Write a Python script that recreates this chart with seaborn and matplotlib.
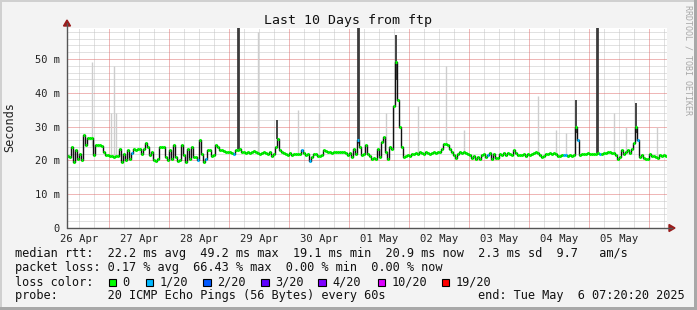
import numpy as np
import pandas as pd
import matplotlib
matplotlib.use("Agg")
import matplotlib.pyplot as plt
import matplotlib.dates as mdates
from matplotlib.patches import Rectangle, Polygon
from matplotlib.lines import Line2D
import seaborn as sns

# ---------------- data ----------------
start_time = "2025-04-26 07:20:20"
end_time = "2025-05-06 07:20:20"
step_minutes = 48

# median RTT per 48-minute step (ms)
median_ms = [
    # 26 Apr 07:20 ->
    21.2, 21.0, 24.0, 19.5, 23.0, 20.5, 22.0, 20.0, 27.5, 24.6,
    26.6, 26.5, 26.5, 21.7, 24.5, 24.5, 24.5, 24.3, 22.5, 21.5,
    21.5, 21.2, 21.2, 21.0, 21.2, 21.2, 23.5, 19.5, 22.0, 20.0,
    23.0, 20.5, 22.3, 23.3, 23.0, 23.5, 23.5, 22.0, 23.5, 25.0,
    24.0, 21.5, 22.5, 20.0, 19.7, 20.5, 24.0, 24.0, 24.0, 21.0,
    20.0,
    # 28 Apr ->
    23.0, 20.3, 24.5, 21.0, 19.8, 20.0, 24.5, 21.5, 19.5, 23.5,
    20.5, 24.0, 21.0, 21.0, 20.0, 26.0, 22.0, 19.5, 20.5, 23.0,
    23.0, 21.3, 21.5, 24.7, 24.0, 23.0, 23.0, 22.8, 22.5, 22.6,
    22.6, 22.2, 22.0, 23.0, 23.0, 23.5, 22.5, 22.5, 22.3, 22.5,
    22.3, 22.6, 22.8, 22.6, 22.2, 22.0, 22.3, 22.5, 22.2, 22.0,
    # 29 Apr 19:00 ->
    22.5, 21.2, 22.0, 24.0, 26.2, 23.0, 22.6, 22.3, 22.0, 21.5,
    22.3, 21.5, 22.0, 21.8, 21.8, 22.0, 23.0, 22.3, 21.5, 22.0,
    19.8, 21.0, 22.0, 21.8, 21.3, 21.2, 21.5, 23.0, 22.8, 22.5,
    22.6, 22.3, 22.5, 22.5, 22.6, 22.5, 22.4, 22.5, 22.3, 21.5,
    22.2, 21.0, 23.5, 22.0, 26.0, 24.0, 21.5, 22.0, 24.5, 22.0,
    # 01 May 10:00 ->
    21.2, 20.5, 20.8, 20.5, 23.5, 21.0, 25.3, 27.0, 22.5, 20.5,
    24.0, 23.5, 36.0, 49.2, 38.0, 30.0, 24.0, 21.0, 21.3, 21.5,
    21.2, 22.0, 22.0, 22.2, 22.0, 22.5, 22.3, 22.0, 22.5, 22.3,
    22.0, 22.3, 22.5, 22.3, 22.5, 22.5, 23.5, 24.8, 24.8, 24.5,
    23.5, 22.5, 21.5, 20.8, 22.0, 22.5, 22.3, 22.5, 22.3, 22.0,
    21.5, 20.8,
    # 03 May ->
    21.3, 20.3, 21.0, 20.5, 21.5, 21.8, 21.0, 21.7, 22.3, 20.5,
    22.0, 20.8, 20.8, 22.0, 21.5, 22.3, 21.7, 22.3, 21.8, 21.7,
    23.0, 22.3, 21.7, 21.5, 21.7, 22.0, 21.3, 21.8, 21.7, 22.0,
    22.3, 22.5, 22.3, 21.7, 21.0, 21.3, 21.8, 22.0, 22.3, 21.8,
    22.2, 22.0, 21.3, 21.3, 21.5, 21.7, 21.7, 21.3, 21.5, 21.3,
    # 04 May 16:00 ->
    21.7, 30.0, 26.0, 21.7, 22.0, 21.8, 22.0, 22.2, 21.8, 21.8,
    22.0, 21.8, 22.2, 21.8, 22.0, 22.3, 22.2, 22.5, 22.5, 22.3,
    22.3, 21.5, 20.5, 21.0, 23.0, 22.0, 22.5, 23.0, 22.3, 23.5,
    25.0, 30.0, 26.0, 21.0, 21.5, 20.8, 20.5, 20.3, 22.0, 21.3,
    21.3, 21.0, 20.8, 21.5, 21.3, 21.5, 21.3,
]
# steps with lost pings (step index, pings lost out of 20)
loss_step_index = [32, 65, 69, 83, 117, 121, 145, 210, 248, 249, 255, 266, 285]
loss_step_count = [1, 1, 1, 1, 1, 1, 1, 1, 1, 1, 1, 1, 1]

# smoke spikes (individual pings reaching high)
spike_times = [
    "2025-04-26 17:20", "2025-04-27 00:56", "2025-04-27 02:08", "2025-04-27 03:00",
    "2025-04-29 03:44", "2025-04-29 11:44", "2025-04-29 19:20", "2025-04-30 03:44",
    "2025-04-30 12:08", "2025-05-01 03:44", "2025-05-01 14:56", "2025-05-01 18:56",
    "2025-05-02 03:44", "2025-05-02 14:56", "2025-05-02 22:08", "2025-05-04 03:44",
    "2025-05-04 10:56", "2025-05-04 14:56", "2025-05-04 18:56", "2025-05-05 03:20",
    "2025-05-05 10:08", "2025-05-05 14:56", "2025-05-05 18:56", "2025-05-06 03:20",
]
spike_top_ms = [
    49, 34, 48, 34,
    60, 58, 32, 35,
    34, 60, 34, 57,
    36, 48, 29, 39,
    29, 28, 38, 60,
    34, 30, 37, 30,
]
spike_shade = [
    "light", "light", "light", "light",
    "dark", "light", "mid", "light",
    "light", "dark", "light", "mid",
    "light", "light", "light", "light",
    "light", "light", "mid", "dark",
    "light", "light", "mid", "light",
]

xtick_days = ["2025-04-26", "2025-04-27", "2025-04-28", "2025-04-29", "2025-04-30",
              "2025-05-01", "2025-05-02", "2025-05-03", "2025-05-04", "2025-05-05"]
xtick_labels = ["26 Apr", "27 Apr", "28 Apr", "29 Apr", "30 Apr",
                "01 May", "02 May", "03 May", "04 May", "05 May"]
ytick_ms = [0, 10, 20, 30, 40, 50]
ytick_labels = ["0", "10 m", "20 m", "30 m", "40 m", "50 m"]
y_max_ms = 59.17

loss_thresholds = [0, 1, 2, 3, 4, 10, 19]
loss_legend_labels = ["0", "1/20", "2/20", "3/20", "4/20", "10/20", "19/20"]
loss_legend_colors = ["#00ff00", "#00b8ff", "#0059ff", "#5e00ff", "#7e00ff", "#dd00ff", "#ff0000"]

title = "Last 10 Days from ftp"
line_median = "median rtt:  22.2 ms avg  49.2 ms max  19.1 ms min  20.9 ms now  2.3 ms sd  9.7   am/s"
line_loss = "packet loss: 0.17 % avg  66.43 % max  0.00 % min  0.00 % now"
line_color_label = "loss color:"
line_probe = "probe:       20 ICMP Echo Pings (56 Bytes) every 60s"
line_end = "end: Tue May  6 07:20:20 2025"

# ---------------- figure ----------------
sns.set_theme(style="white")
plt.rcParams["font.family"] = ["DejaVu Sans Mono", "DejaVu Sans"]

W, H = 697, 310
fig = plt.figure(figsize=(W / 100, H / 100), dpi=100, facecolor="#f3f3f3")


def fx(px):
    return px / W


def fy(py):
    return 1 - py / H


PL, PR, PT, PB = 67, 667, 28, 228
ax = fig.add_axes([fx(PL), fy(PB), fx(PR) - fx(PL), fy(PT) - fy(PB)])
ax.set_facecolor("white")

t0 = pd.Timestamp(start_time)
t1 = pd.Timestamp(end_time)
times = pd.date_range(t0, periods=len(median_ms), freq=f"{step_minutes}min")
tnum = mdates.date2num(times.to_pydatetime())
step = step_minutes / 1440.0
x0, x1 = mdates.date2num(t0.to_pydatetime()), mdates.date2num(t1.to_pydatetime())

loss = np.zeros(len(median_ms), dtype=int)
loss[loss_step_index] = loss_step_count
df = pd.DataFrame({"t": tnum, "median": median_ms, "loss": loss})

# grid
grid_minor = "#c4c4c4"
grid_major = "#e07070"
dots = (0, (1.0, 1.0))
glw = 0.72
for v in np.arange(0, y_max_ms, 2):
    if int(round(v)) % 10 != 0:
        ax.axhline(v, color=grid_minor, lw=glw, ls=dots, zorder=0)
for v in ytick_ms[1:]:
    ax.axhline(v, color=grid_major, lw=glw, ls=dots, zorder=0.5)
day0 = pd.Timestamp(xtick_days[0])
for h in range(0, 11 * 24 + 1, 6):
    tt = mdates.date2num((day0 + pd.Timedelta(hours=h)).to_pydatetime())
    if x0 < tt < x1:
        ax.axvline(tt, color=grid_major if h % 24 == 0 else grid_minor,
                   lw=glw, ls=dots, zorder=0.5 if h % 24 == 0 else 0)

# smoke spikes
st = mdates.date2num(pd.to_datetime(spike_times).to_pydatetime())
base = np.interp(st, tnum, median_ms)
shade_style = {"light": ("#cdcdcd", 1.0), "mid": ("#444444", 1.4), "dark": ("#3c3c3c", 2.0)}
for s, b, top, sh in zip(st, base, spike_top_ms, spike_shade):
    c, lw = shade_style[sh]
    ax.vlines(s, b, top, color=c, lw=lw, zorder=1)

# median line: black connecting steps, loss-coloured horizontal segments
sns.lineplot(data=df, x="t", y="median", drawstyle="steps-post", color="#111111",
             lw=1.0, ax=ax, legend=False, zorder=2)


def loss_color(n):
    idx = max(i for i, th in enumerate(loss_thresholds) if n >= th)
    return loss_legend_colors[idx]


ax.hlines(df["median"], df["t"], df["t"] + step, colors=[loss_color(n) for n in df["loss"]],
          lw=2.2, zorder=3)

ax.set_xlim(x0, x1)
ax.set_ylim(0, y_max_ms)
for s in ["top", "right", "left", "bottom"]:
    ax.spines[s].set_visible(False)

noon = [mdates.date2num((pd.Timestamp(d) + pd.Timedelta(hours=12)).to_pydatetime()) for d in xtick_days]
ax.set_xticks(noon)
ax.set_xticklabels(xtick_labels, fontsize=7.6, color="#222222")
ax.set_yticks(ytick_ms)
ax.set_yticklabels(ytick_labels, fontsize=7.5, color="#222222")
ax.tick_params(axis="x", length=0, pad=4)
ax.tick_params(axis="y", length=0, pad=5)
ax.set_xlabel("")
ax.set_ylabel("")

# axes lines with arrows
axis_c = "#555555"
fig.add_artist(Line2D([fx(PL), fx(PL)], [fy(PB), fy(PT - 5)], color=axis_c, lw=1.0))
fig.add_artist(Line2D([fx(PL), fx(PR + 5)], [fy(PB), fy(PB)], color=axis_c, lw=1.0))
arrow_c = "#9a1c1c"
fig.add_artist(Polygon([[fx(PL - 3.5), fy(PT - 2)], [fx(PL + 3.5), fy(PT - 2)], [fx(PL), fy(PT - 8)]],
                       closed=True, color=arrow_c, transform=fig.transFigure))
fig.add_artist(Polygon([[fx(PR + 2), fy(PB - 3.5)], [fx(PR + 2), fy(PB + 3.5)], [fx(PR + 8), fy(PB)]],
                       closed=True, color=arrow_c, transform=fig.transFigure))

# texts
fig.text(fx(348), fy(24), title, ha="center", va="baseline", fontsize=9.5, color="#111111")
fig.text(fx(10), fy(127), "Seconds", rotation=90, ha="center", va="center", fontsize=8.6, color="#222222")
fig.text(fx(688), fy(5), "RRDTOOL / TOBI OETIKER", rotation=270, ha="center", va="top",
         fontsize=6.0, color="#a8a8a8")

LX = 15
lfs = 8.54
fig.text(fx(LX), fy(257.5), line_median, ha="left", va="baseline", fontsize=lfs, color="#111111")
fig.text(fx(LX), fy(271.5), line_loss, ha="left", va="baseline", fontsize=lfs, color="#111111")
fig.text(fx(LX), fy(285.5), line_color_label, ha="left", va="baseline", fontsize=lfs, color="#111111")
sq_x = [108.7, 145.7, 203.3, 261.0, 318.3, 377.7, 441.7]
tx_x = [122.7, 160.0, 217.3, 275.3, 332.7, 391.7, 456.0]
for sx, tx, lab, col in zip(sq_x, tx_x, loss_legend_labels, loss_legend_colors):
    fig.add_artist(Rectangle((fx(sx), fy(286)), fx(7.5), 7.5 / H, facecolor=col,
                             edgecolor="black", lw=0.8, transform=fig.transFigure))
    fig.text(fx(tx), fy(285.5), lab, ha="left", va="baseline", fontsize=lfs, color="#111111")
fig.text(fx(LX), fy(299.5), line_probe, ha="left", va="baseline", fontsize=lfs, color="#111111")
fig.text(fx(478), fy(299.5), line_end, ha="left", va="baseline", fontsize=lfs, color="#111111")

# figure frame
fig.add_artist(Rectangle((0, 0), fx(2), 1, color="#d0d0d0", transform=fig.transFigure, lw=0))
fig.add_artist(Rectangle((0, fy(2)), 1, 2 / H, color="#d0d0d0", transform=fig.transFigure, lw=0))
fig.add_artist(Rectangle((fx(694), 0), fx(3), 1, color="#a8a8a8", transform=fig.transFigure, lw=0))
fig.add_artist(Rectangle((0, 0), 1, 3 / H, color="#a8a8a8", transform=fig.transFigure, lw=0))

fig.savefig("out.png", dpi=100, facecolor=fig.get_facecolor())
